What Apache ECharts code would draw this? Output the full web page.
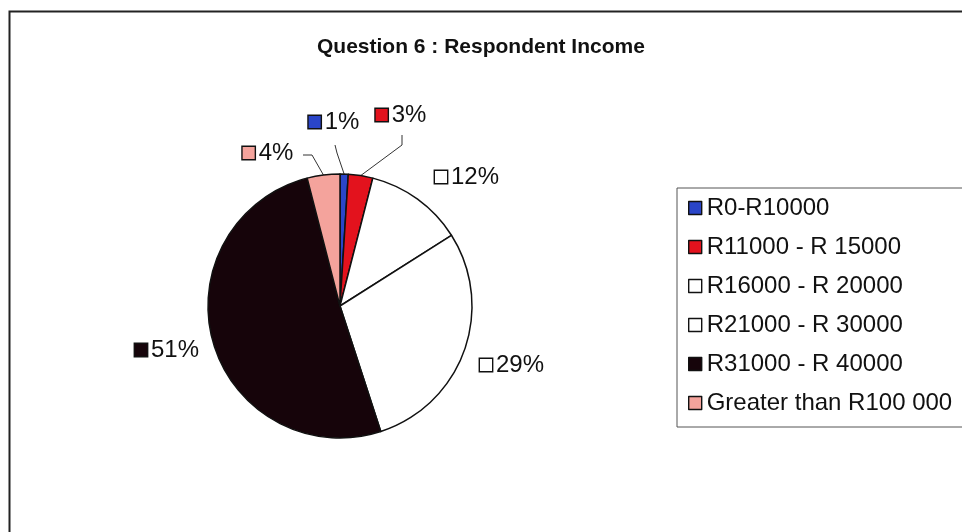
<!DOCTYPE html>
<html>
<head>
<meta charset="utf-8">
<script src="https://cdn.jsdelivr.net/npm/echarts@6/dist/echarts.min.js"></script>
<style>
  html, body { margin: 0; padding: 0; background: #fff; }
  #chart { width: 962px; height: 532px; }
</style>
</head>
<body>
<div id="chart"></div>
<script>
// Income bands and share of respondents (%)
const categories = ['R0-R10000', 'R11000 - R 15000', 'R16000 - R 20000', 'R21000 - R 30000', 'R31000 - R 40000', 'Greater than R100 000'];
const shares = [1, 3, 12, 29, 51, 4];
const colors = ['#2a45c8', '#e3121d', '#ffffff', '#ffffff', '#16040a', '#f4a39c'];

const font = 'Arial, "Liberation Sans", sans-serif';
const pieCenter = [340, 306];
const pieRadius = 132;

// where each percentage label sits, and the elbow/end of its leader line
const labelSpots = [
  { x: 334, y: 122, line: [[337, 153], [335, 145]] },
  { x: 401, y: 115, line: [[402, 145], [402, 135]] },
  { x: 467, y: 177 },
  { x: 512, y: 365 },
  { x: 167, y: 350 },
  { x: 268, y: 153, line: [[312, 155], [303, 155]] }
];

const rich = { v: { fontSize: 24, fontFamily: font, color: '#111', padding: [0, 0, 0, 4] } };
categories.forEach((c, i) => {
  rich['s' + i] = { width: 12, height: 12, backgroundColor: colors[i], borderColor: '#111', borderWidth: 1.4 };
});

const data = categories.map((name, i) => ({
  name: name,
  value: shares[i],
  itemStyle: { color: colors[i] }
}));
// slices whose labels sit next to the pie without a leader line
[2, 3, 4].forEach(i => { data[i].labelLine = { show: false }; });

// point on the rim at the middle of slice i (clockwise from 12 o'clock)
function rimPoint(i) {
  const total = shares.reduce((a, b) => a + b, 0);
  let before = 0;
  for (let k = 0; k < i; k++) before += shares[k];
  const ang = (before + shares[i] / 2) / total * 2 * Math.PI;
  return [pieCenter[0] + pieRadius * Math.sin(ang), pieCenter[1] - pieRadius * Math.cos(ang)];
}

const chart = echarts.init(document.getElementById('chart'), null, { renderer: 'canvas' });
chart.setOption({
  backgroundColor: '#fff',
  animation: false,
  title: {
    text: 'Question 6 : Respondent Income',
    left: 312,
    top: 32,
    textStyle: { fontFamily: font, fontSize: 21, fontWeight: 'bold', color: '#111' }
  },
  graphic: [{
    type: 'rect',
    shape: { x: 9.5, y: 11.5, width: 1000, height: 600 },
    style: { fill: 'none', stroke: '#222', lineWidth: 2 },
    silent: true
  }],
  legend: {
    orient: 'vertical',
    left: 677,
    top: 188,
    itemWidth: 13,
    itemHeight: 13,
    itemGap: 15,
    icon: 'rect',
    padding: [8, 40, 12, 11],
    borderColor: '#555',
    borderWidth: 1,
    textStyle: { fontFamily: font, fontSize: 24, color: '#111' },
    itemStyle: { borderColor: '#111', borderWidth: 1.4 },
    data: categories
  },
  series: [{
    type: 'pie',
    center: pieCenter,
    radius: pieRadius,
    startAngle: 90,
    clockwise: true,
    data: data,
    itemStyle: { borderColor: '#111', borderWidth: 1.5 },
    label: {
      show: true,
      position: 'outside',
      formatter: p => '{s' + p.dataIndex + '|}{v|' + p.value + '%}',
      rich: rich
    },
    labelLine: {
      show: true,
      lineStyle: { color: '#333', width: 1 }
    },
    labelLayout: function (params) {
      const i = params.dataIndex;
      const spot = labelSpots[i];
      const out = { x: spot.x, y: spot.y, align: 'center', verticalAlign: 'middle' };
      if (spot.line) out.labelLinePoints = [rimPoint(i)].concat(spot.line);
      return out;
    },
    emphasis: { disabled: true }
  }]
});
</script>
</body>
</html>
